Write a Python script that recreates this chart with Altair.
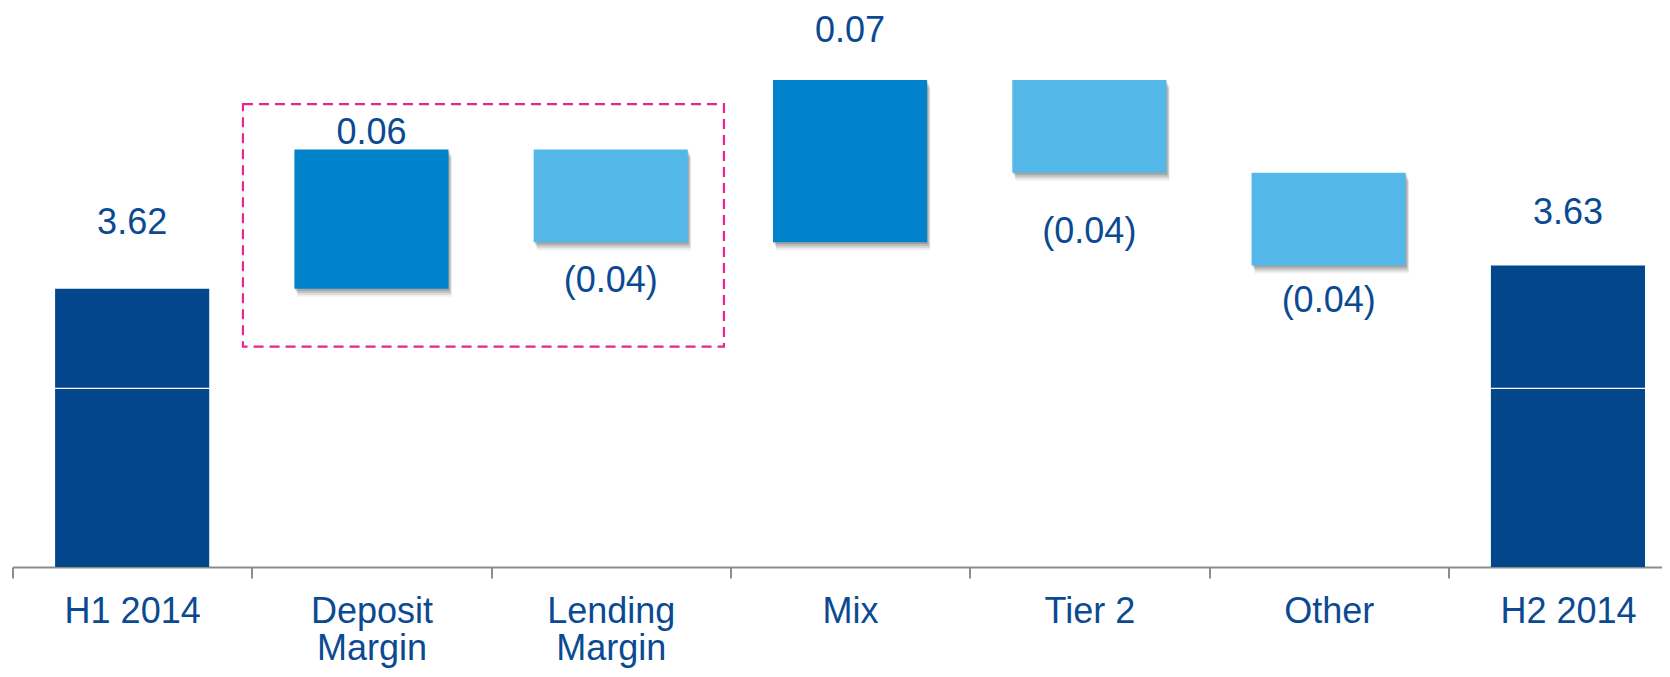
import altair as alt
import pandas as pd
import json

# ---- data ----
categories = ["H1 2014", "Deposit Margin", "Lending Margin", "Mix", "Tier 2", "Other", "H2 2014"]
values = [3.62, 0.06, -0.04, 0.07, -0.04, -0.04, 3.63]
kinds = ["total", "up", "down", "up", "down", "down", "total"]
axis_floor = 3.50          # truncated value axis starts here
axis_ceiling = 3.741
break_marker = 3.577       # white "axis break" line drawn through the total bars
boxed = ["Deposit Margin", "Lending Margin"]

# ---- styling / layout ----
FONT = "Liberation Sans"
TEXT_COLOR = "#0b4a92"
COLORS = {"total": "#03468c", "up": "#0083cb", "down": "#53b8e7"}
label_nudge = {"H1 2014": -66, "Deposit Margin": -16, "Lending Margin": 39,
               "Mix": -49, "Tier 2": 59, "Other": 36, "H2 2014": -52}
W, H = 1649.5, 559
STEP_PX = 239.3            # width of one category slot
BAR_PAD = 0.178            # empty fraction on each side of a bar within its slot

rows = []
running = 0.0
for i, (c, v, k) in enumerate(zip(categories, values, kinds)):
    if k == "total":
        start, end = 0.0, v
        running = v
        label = f"{v:.2f}"
    else:
        start, end = running, running + v
        running = end
        label = f"{v:.2f}" if v >= 0 else f"({abs(v):.2f})"
    rows.append({"cat": c, "idx": i, "kind": k, "start": round(start, 4), "end": round(end, 4),
                 "top": round(max(start, end), 4), "bottom": round(min(start, end), 4),
                 "xb0": i + BAR_PAD, "xb1": i + 1 - BAR_PAD, "xc": i + 0.5,
                 "label": label, "above": v >= 0})
df = pd.DataFrame(rows)

yscale = alt.Scale(domain=[axis_floor, axis_ceiling], clamp=True, nice=False, zero=False)
xscale = alt.Scale(domain=[0, W / STEP_PX], nice=False, zero=False)

cats_js = json.dumps(categories)
label_expr = (f"indexof({cats_js}[datum.value], 'Margin') >= 0 ? "
              f"split({cats_js}[datum.value], ' ') : {cats_js}[datum.value]")

x_axis = alt.Axis(values=list(range(len(categories))), labelExpr=label_expr, labelOffset=STEP_PX / 2,
                  labelFont=FONT, labelFontSize=36, labelColor=TEXT_COLOR, labelFlush=False, labelBound=False,
                  labelLineHeight=37, labelPadding=16, labelOverlap=False, labelLimit=400, labelAngle=0,
                  tickSize=11, tickWidth=2, tickColor="#8c8c8c",
                  domainColor="#8c8c8c", domainWidth=2, grid=False, title=None)

base = alt.Chart(df)
layers = []

# soft drop shadow under the floating bars
for dx, dy, op in [(1, 2, 0.14), (2, 4, 0.12), (3, 6, 0.09), (3, 8, 0.06)]:
    layers.append(
        base.transform_filter("datum.kind != 'total'")
        .mark_bar(color="black", opacity=op, xOffset=dx, x2Offset=dx, yOffset=dy, y2Offset=dy)
        .encode(x=alt.X("xb0:Q", scale=xscale, axis=x_axis), x2="xb1:Q",
                y=alt.Y("start:Q", scale=yscale, axis=None), y2="end:Q")
    )

bars = base.mark_bar().encode(
    x=alt.X("xb0:Q", scale=xscale, axis=x_axis), x2="xb1:Q",
    y=alt.Y("start:Q", scale=yscale, axis=None), y2="end:Q",
    color=alt.Color("kind:N", scale=alt.Scale(domain=list(COLORS), range=list(COLORS.values())), legend=None),
)
layers.append(bars)

brk = base.transform_filter("datum.kind == 'total'").transform_calculate(
    b0=f"{break_marker} - 0.0003", b1=f"{break_marker} + 0.0003"
).mark_bar(color="white").encode(
    x=alt.X("xb0:Q", scale=xscale, axis=x_axis), x2="xb1:Q",
    y=alt.Y("b0:Q", scale=yscale, axis=None), y2="b1:Q")
layers.append(brk)

for c in categories:
    r = df[df.cat == c].iloc[0]
    field = "top" if r["above"] else "bottom"
    layers.append(
        base.transform_filter(alt.datum.cat == c)
        .mark_text(font=FONT, fontSize=36, color=TEXT_COLOR, baseline="middle", align="center",
                   dy=label_nudge[c])
        .encode(x=alt.X("xc:Q", scale=xscale, axis=x_axis),
                y=alt.Y(f"{field}:Q", scale=yscale, axis=None), text="label:N")
    )

# dashed highlight box around the two margin categories (x in category-slot units)
bsub = df[df.cat.isin(boxed)]
box_df = pd.DataFrame([{
    "x0": bsub.idx.min() - 0.037, "x1": bsub.idx.max() + 1 - 0.027,
    "y0": bsub.top.max() + 0.0196, "y1": bsub.bottom.min() - 0.025,
}])
box = alt.Chart(box_df).mark_rect(fillOpacity=0, stroke="#ec2390", strokeWidth=2.2, strokeDash=[10, 6]).encode(
    x=alt.X("x0:Q", scale=xscale, axis=x_axis), x2="x1:Q",
    y=alt.Y("y0:Q", scale=yscale, axis=None), y2="y1:Q",
)
layers.append(box)

chart = alt.layer(*layers).properties(
    width=W, height=H,
    autosize=alt.AutoSizeParams(type="none"),
    padding={"left": 4.5, "top": 0, "right": 0, "bottom": 102},
    background="white",
).configure_view(stroke=None)

chart.save("out.html", embed_options={"renderer": "svg", "actions": False})
